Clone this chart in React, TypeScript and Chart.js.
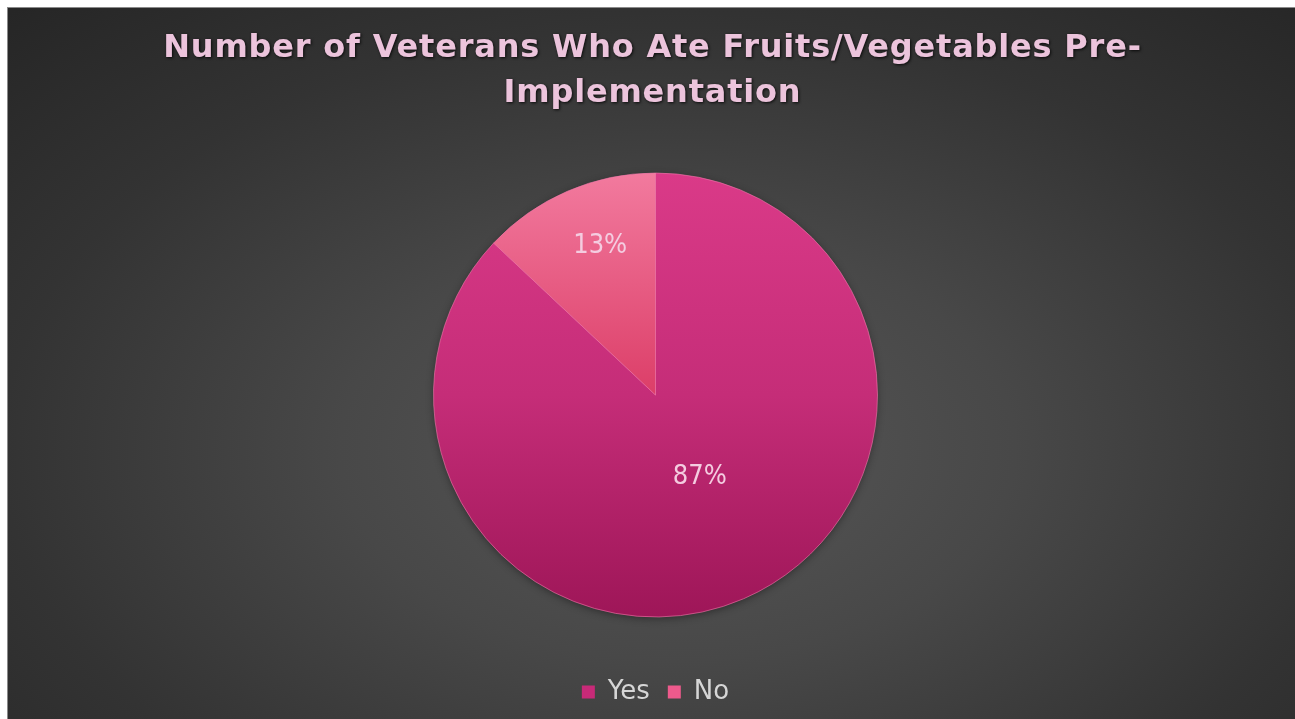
import React, { useEffect, useRef } from "react";
import { Chart, registerables } from "chart.js";

Chart.register(...registerables);

const titleLines = ["Number of Veterans Who Ate Fruits/Vegetables Pre-", "Implementation"];
const categories = ["Yes", "No"];
const values = [87, 13];

const solidColors = ["#c82a78", "#ee5a8c"];

function sliceGradient(ctx: any) {
  const chart = ctx.chart;
  const area = chart.chartArea;
  const i = ctx.dataIndex;
  if (!area) return solidColors[i];
  const c = chart.ctx as CanvasRenderingContext2D;
  const cy = (area.top + area.bottom) / 2;
  const r = 222;
  if (!Number.isFinite(cy)) return solidColors[i];
  if (i === 0) {
    const g = c.createLinearGradient(0, cy - r, 0, cy + r);
    g.addColorStop(0, "#da3a88");
    g.addColorStop(0.5, "#c52d78");
    g.addColorStop(1, "#9e1658");
    return g;
  }
  const g = c.createLinearGradient(0, cy - r, 0, cy);
  g.addColorStop(0, "#f27a9e");
  g.addColorStop(1, "#dc3e68");
  return g;
}

const titlePlugin = {
  id: "customTitle",
  afterDraw(chart: any) {
    const c = chart.ctx as CanvasRenderingContext2D;
    c.save();
    c.font = 'bold 32px "DejaVu Sans"';
    (c as any).letterSpacing = "0.8px";
    c.textAlign = "center";
    c.textBaseline = "middle";
    const x = chart.width / 2 + 1;
    const ys = [41, 86];
    titleLines.forEach((t, k) => {
      c.shadowColor = "rgba(0,0,0,0.8)";
      c.shadowBlur = 3;
      c.shadowOffsetX = 1;
      c.shadowOffsetY = 1;
      c.fillStyle = "#ecc4dc";
      c.fillText(t, x, ys[k]);
    });
    c.restore();
  },
};

const labelPlugin = {
  id: "sliceLabels",
  afterDatasetsDraw(chart: any, _args: any, opts: any) {
    const c = chart.ctx as CanvasRenderingContext2D;
    const meta = chart.getDatasetMeta(0);
    const total = values.reduce((a, b) => a + b, 0);
    c.save();
    c.font = '27px "DejaVu Sans Condensed", "DejaVu Sans"';
    c.fillStyle = "#f4cce0";
    c.textAlign = "center";
    c.textBaseline = "middle";
    meta.data.forEach((arc: any, i: number) => {
      const mid = (arc.startAngle + arc.endAngle) / 2 + ((opts.angleShift[i] || 0) * Math.PI) / 180;
      const rr = arc.outerRadius * opts.radius[i];
      const x = arc.x + Math.cos(mid) * rr;
      const y = arc.y + Math.sin(mid) * rr;
      c.fillText(Math.round((values[i] / total) * 100) + "%", x, y);
    });
    c.restore();
  },
};

const shadowPlugin = {
  id: "pieShadow",
  beforeDatasetsDraw(chart: any) {
    const c = chart.ctx as CanvasRenderingContext2D;
    const arc: any = chart.getDatasetMeta(0).data[0];
    if (!arc || !Number.isFinite(arc.x) || !Number.isFinite(arc.outerRadius)) return;
    c.save();
    c.shadowColor = "rgba(0,0,0,0.45)";
    c.shadowBlur = 8;
    c.shadowOffsetY = 2;
    c.fillStyle = "#8a1450";
    c.beginPath();
    c.arc(arc.x, arc.y, Math.max(arc.outerRadius - 1, 0), 0, Math.PI * 2);
    c.fill();
    c.restore();
  },
};

export default function App() {
  const ref = useRef<HTMLCanvasElement>(null);
  useEffect(() => {
    if (!ref.current) return;
    const chart = new Chart(ref.current, {
      type: "pie",
      data: {
        labels: categories,
        datasets: [
          {
            data: values,
            backgroundColor: sliceGradient as any,
            borderColor: "rgba(240,120,170,0.6)",
            borderWidth: 1,
          },
        ],
      },
      options: {
        animation: false,
        responsive: true,
        maintainAspectRatio: false,
        radius: 222,
        layout: { padding: { top: 121, left: 8, right: 0, bottom: 4 } },
        plugins: {
          title: { display: false },
          tooltip: { enabled: false },
          sliceLabels: { radius: [0.42, 0.715], angleShift: [-5, 3] },
          legend: {
            position: "bottom",
            labels: {
              color: "#d6d6d6",
              font: { family: '"DejaVu Sans"', size: 26 },
              boxWidth: 13,
              boxHeight: 13,
              padding: 18,
              generateLabels: () =>
                categories.map((name, i) => ({
                  text: name,
                  fillStyle: solidColors[i],
                  strokeStyle: solidColors[i],
                  lineWidth: 0,
                  fontColor: "#d6d6d6",
                  index: i,
                  hidden: false,
                })),
            },
          },
        },
      } as any,
      plugins: [shadowPlugin, labelPlugin, titlePlugin],
    });
    return () => chart.destroy();
  }, []);

  return (
    <div
      style={{
        position: "fixed",
        left: 7,
        top: 7,
        width: 1288,
        height: 712,
        borderTop: "1px solid #8a8a8a",
        borderLeft: "1px solid #8a8a8a",
        boxSizing: "border-box",
        background:
          "radial-gradient(ellipse 75% 85% at 52% 62%, #575757 0%, #484848 35%, #333333 70%, #262626 100%)",
      }}
    >
      <canvas ref={ref} />
    </div>
  );
}
